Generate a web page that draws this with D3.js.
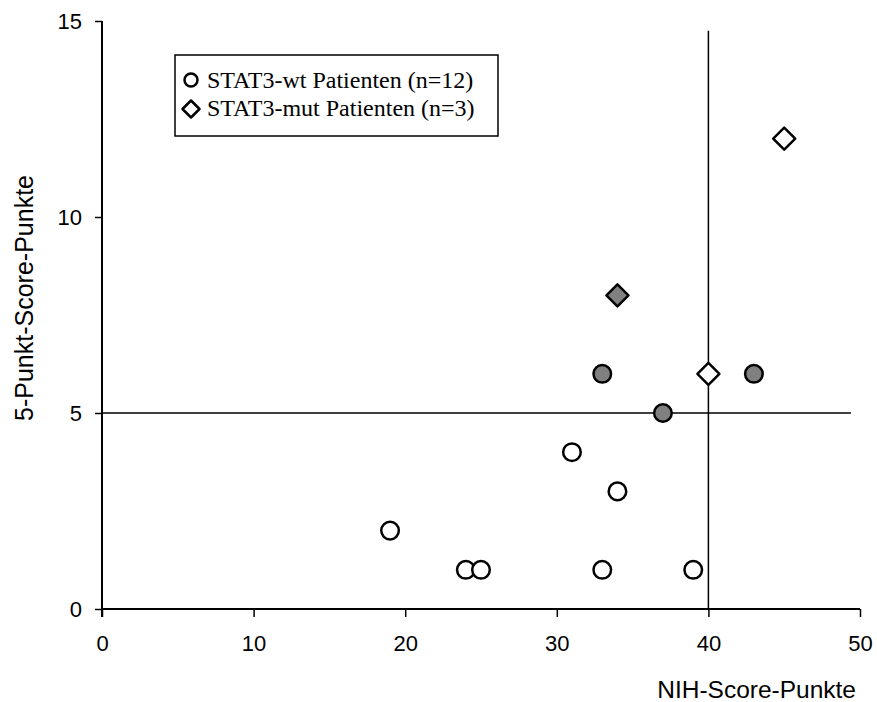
<!DOCTYPE html>
<html>
<head>
<meta charset="utf-8">
<script src="https://cdn.jsdelivr.net/npm/d3@7"></script>
<style>
  body { margin: 0; background: #fff; }
  svg { display: block; }
</style>
</head>
<body>
<div id="container"></div>
<script>
'use strict'

// data
const wtX   = [19, 24, 25, 31, 34, 33, 39, 33, 37, 43];
const wtY   = [ 2,  1,  1,  4,  3,  1,  1,  6,  5,  6];
const wtFill = ['w','w','w','w','w','w','w','g','g','g'];
const mutX  = [34, 40, 45];
const mutY  = [ 8,  6, 12];
const mutFill = ['g','w','w'];
const xTicks = [0, 10, 20, 30, 40, 50];
const yTicks = [0, 5, 10, 15];
const legendLabels = ['STAT3-wt Patienten (n=12)', 'STAT3-mut Patienten (n=3)'];

const w = 877, h = 702;
const colors = { w: '#ffffff', g: '#808080' };
const sans = 'Liberation Sans, Arial, sans-serif';

const xScale = d3.scaleLinear().domain([0, 50]).range([102, 860]);
const yScale = d3.scaleLinear().domain([0, 15]).range([609, 21]);

const svg = d3.select('#container').append('svg')
    .attr('width', w).attr('height', h);

// axes
const xAxis = d3.axisBottom(xScale).tickValues(xTicks).tickSize(8).tickSizeOuter(0).tickPadding(18);
const gx = svg.append('g').attr('transform', 'translate(0,' + yScale(0) + ')').call(xAxis);
gx.select('.domain').attr('d', 'M' + xScale(0) + ',0H' + xScale(50)).attr('stroke-width', 2);
gx.selectAll('line').attr('stroke-width', 1.5);
gx.selectAll('text').style('font-family', sans).style('font-size', '22px').attr('fill', '#000');

const yAxis = d3.axisLeft(yScale).tickValues(yTicks).tickSize(7).tickSizeOuter(0).tickPadding(13);
const gy = svg.append('g').attr('transform', 'translate(' + xScale(0) + ',0)').call(yAxis);
gy.select('.domain').attr('d', 'M0,' + (yScale(0) + 8) + 'V' + yScale(15)).attr('stroke-width', 2);
gy.selectAll('line').attr('stroke-width', 1.5);
gy.selectAll('text').style('font-family', sans).style('font-size', '22px').attr('fill', '#000');

// reference lines
svg.append('line')
    .attr('x1', xScale(0)).attr('x2', xScale(49.4))
    .attr('y1', yScale(5)).attr('y2', yScale(5))
    .attr('stroke', '#000').attr('stroke-width', 1.5);
svg.append('line')
    .attr('x1', xScale(40)).attr('x2', xScale(40))
    .attr('y1', yScale(0)).attr('y2', yScale(14.75))
    .attr('stroke', '#000').attr('stroke-width', 1.5);

// markers
svg.selectAll('circle.wt').data(wtX).enter().append('circle')
    .attr('class', 'wt')
    .attr('cx', d => xScale(d))
    .attr('cy', (d, i) => yScale(wtY[i]))
    .attr('r', 8.8)
    .attr('fill', (d, i) => colors[wtFill[i]])
    .attr('stroke', '#000').attr('stroke-width', 2.5);

const diamond = s => 'M0,' + (-s) + 'L' + s + ',0L0,' + s + 'L' + (-s) + ',0Z';
svg.selectAll('path.mut').data(mutX).enter().append('path')
    .attr('class', 'mut')
    .attr('d', diamond(11))
    .attr('transform', (d, i) => 'translate(' + xScale(d) + ',' + yScale(mutY[i]) + ')')
    .attr('fill', (d, i) => colors[mutFill[i]])
    .attr('stroke', '#000').attr('stroke-width', 2.5).attr('stroke-linejoin', 'round');

// legend
const lg = svg.append('g');
lg.append('rect').attr('x', 175).attr('y', 55).attr('width', 323).attr('height', 81)
    .attr('fill', '#fff').attr('stroke', '#000').attr('stroke-width', 1.5);
lg.append('circle').attr('cx', 191).attr('cy', 80).attr('r', 6.5)
    .attr('fill', '#fff').attr('stroke', '#000').attr('stroke-width', 2.5);
lg.append('path').attr('d', diamond(8.5)).attr('transform', 'translate(191,109)')
    .attr('fill', '#fff').attr('stroke', '#000').attr('stroke-width', 2.5).attr('stroke-linejoin', 'round');
lg.selectAll('text').data(legendLabels).enter().append('text')
    .attr('x', 207).attr('y', (d, i) => 88 + i * 28)
    .style('font-family', 'Liberation Serif, Times New Roman, serif').style('font-size', '24px')
    .text(d => d);

// axis titles
svg.append('text')
    .attr('x', 856).attr('y', 698)
    .attr('text-anchor', 'end')
    .style('font-family', sans).style('font-size', '24.5px')
    .text('NIH-Score-Punkte');
svg.append('text')
    .attr('transform', 'translate(33,298) rotate(-90)')
    .attr('text-anchor', 'middle')
    .style('font-family', sans).style('font-size', '25px')
    .text('5-Punkt-Score-Punkte');
</script>
</body>
</html>
